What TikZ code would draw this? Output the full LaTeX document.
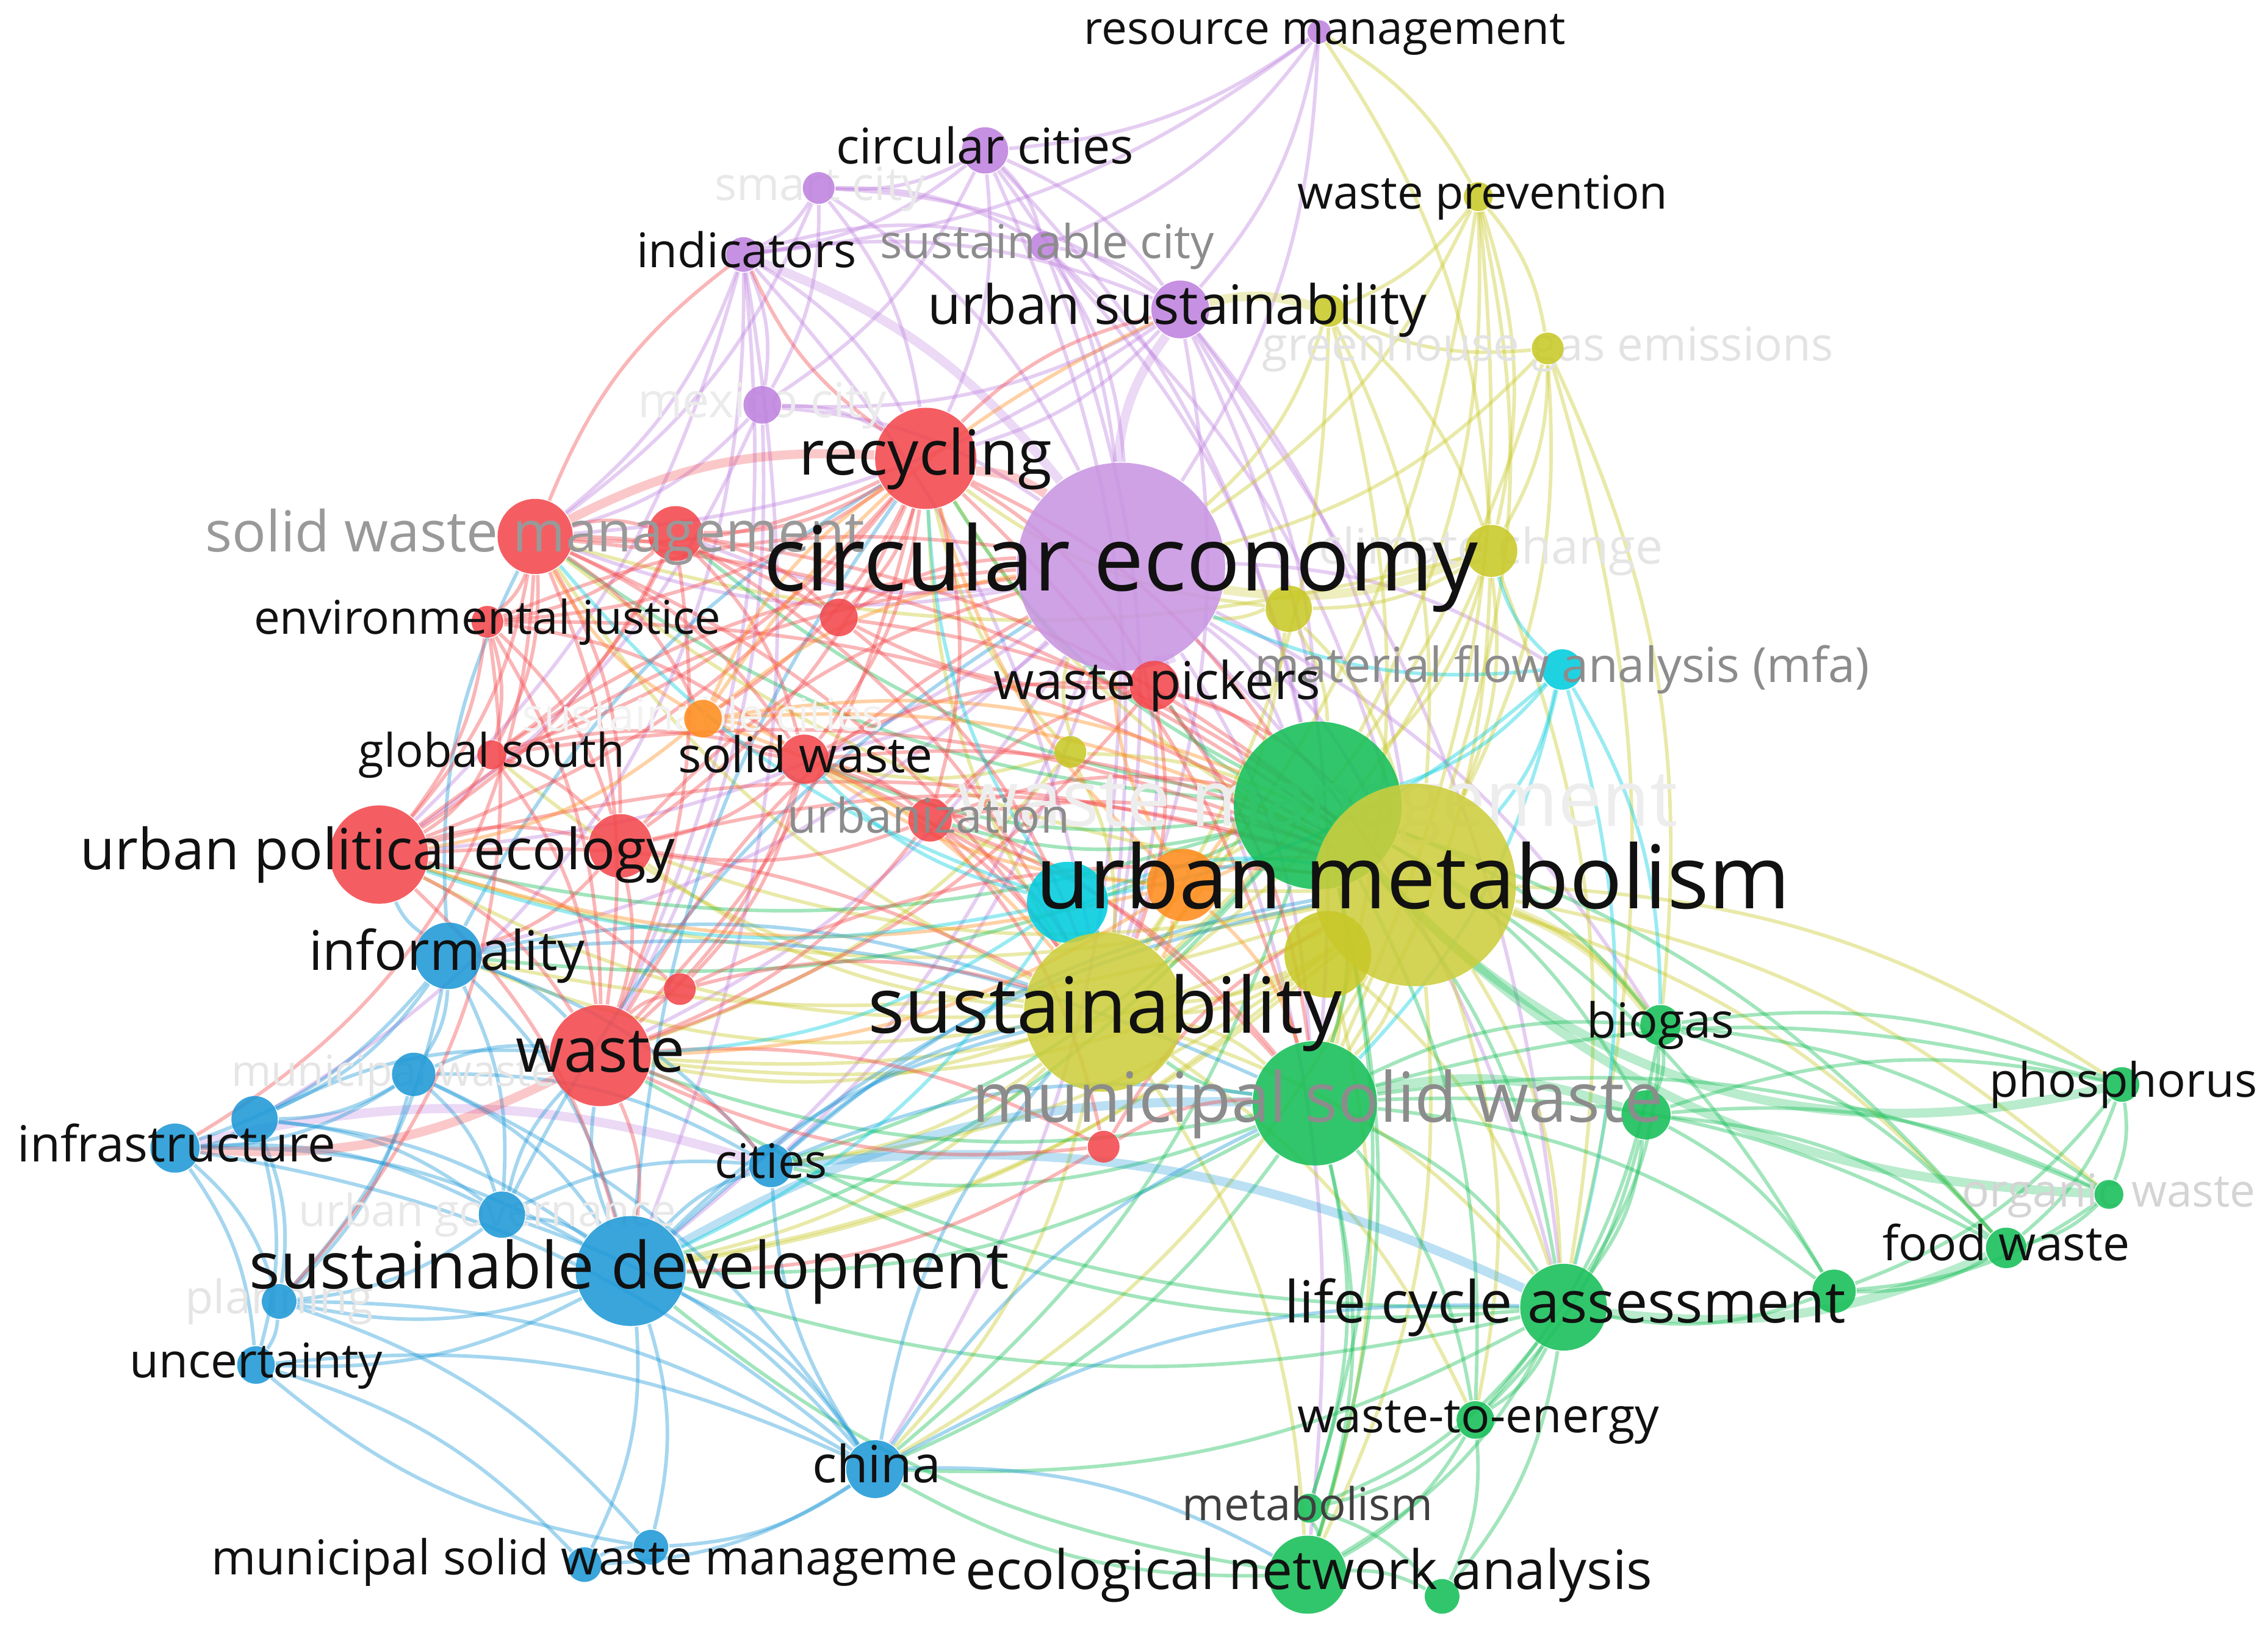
\documentclass[tikz,border=0pt]{standalone}
\usepackage{fontspec}
\setmainfont{Open Sans}
\pgfdeclarelayer{edges}\pgfdeclarelayer{flabels}\pgfdeclarelayer{labels}
\pgfsetlayers{edges,flabels,main,labels}
\definecolor{cred}{RGB}{242,72,76}
\definecolor{cgre}{RGB}{22,190,88}
\definecolor{cblu}{RGB}{30,152,214}
\definecolor{cyel}{RGB}{200,200,40}
\definecolor{cpur}{RGB}{190,130,222}
\definecolor{ccya}{RGB}{0,204,222}
\definecolor{cora}{RGB}{255,140,30}
\definecolor{tblack}{RGB}{17,17,17}
\tikzset{
  knode/.style={circle,inner sep=0pt,draw=none,fill opacity=0.88},
  lbl/.style={inner sep=0pt,anchor=base},
  edge/.style={line width=0.7pt,draw opacity=0.4},
  epu/.style={edge,draw=cpur},
  eye/.style={edge,draw=cyel},
  egr/.style={edge,draw=cgre},
  ebl/.style={edge,draw=cblu},
  ere/.style={edge,draw=cred},
  eor/.style={edge,draw=cora},
  ecy/.style={edge,draw=ccya},
  thk/.style={line width=1.8pt,draw opacity=0.3},
}
\newbox\mylbox
\newdimen\mylwd
\newcommand\labtext[2]{\setbox\mylbox\hbox{\fontsize{10pt}{12pt}\selectfont #2}%
  \mylwd=\wd\mylbox
  \pgfmathsetmacro\fsz{10*#1*0.284528/\the\mylwd}%
  \fontsize{\fsz pt}{\fsz pt}\selectfont\raisebox{-0.5ex}{#2}}
\newcommand\nd[5]{\node[knode,minimum size=#4*0.2mm,fill=#5] (#1) at (#2,#3) {};}
\newcommand\lab[5]{\node[lbl,text=#4] at (#1,#2) {\labtext{#3}{#5}};}
\begin{document}
\begin{tikzpicture}[x=0.1mm,y=-0.1mm]
\useasboundingbox (0,0) rectangle (1568,1131);
% ---------- nodes ----------
% purple
\nd{rm}{912}{22}{8}{cpur}
\nd{cc}{681}{104}{16}{cpur}
\nd{sm}{566}{130}{11}{cpur}
\nd{ind}{514}{176}{12}{cpur}
\nd{sc}{722}{170}{10}{cpur}
\nd{us}{816}{214}{20}{cpur}
\nd{mx}{527}{280}{13}{cpur}
\nd{ce}{775}{392}{72}{cpur!85}
% yellow
\nd{wp}{1022}{136}{10}{cyel}
\nd{y4}{919}{215}{11}{cyel}
\nd{ghg}{1070}{241}{11}{cyel}
\nd{cl}{1031}{381}{18}{cyel}
\nd{y1}{891}{421}{16}{cyel}
\nd{y2}{740}{520}{11}{cyel}
% red
\nd{rc}{640}{317}{35}{cred}
\nd{swm}{370}{371}{26}{cred}
\nd{r1}{467}{369}{19}{cred}
\nd{r2}{580}{427}{13}{cred}
\nd{ej}{337}{430}{11}{cred}
\nd{wpk}{798}{474}{17}{cred}
\nd{gs}{340}{522}{10}{cred}
\nd{sw}{556}{525}{17}{cred}
\nd{ub}{643}{567}{15}{cred}
\nd{upe}{262}{591}{34}{cred}
\nd{r3}{429}{585}{22}{cred}
\nd{wa}{415}{730}{35}{cred}
\nd{r4}{470}{684}{11}{cred}
\nd{r5}{763}{793}{11}{cred}
% orange / cyan
\nd{o1}{486}{497}{13}{cora}
\nd{mfa}{1080}{463}{14}{ccya}
% green big + yellow big
\nd{wm}{911}{557}{58}{cgre}
\nd{o2}{818}{612}{25}{cora}
\nd{c1}{738}{624}{28}{ccya}
\nd{um}{978}{612}{70}{cyel!90}
\nd{y3}{918}{660}{30}{cyel}
\nd{su}{763}{700}{55}{cyel!90}
% green
\nd{msw}{909}{763}{43}{cgre}
\nd{bg}{1148}{709}{14}{cgre}
\nd{g1}{1138}{771}{17}{cgre}
\nd{ph}{1467}{750}{12}{cgre}
\nd{ow}{1458}{826}{10}{cgre}
\nd{fw}{1387}{863}{14}{cgre}
\nd{g2}{1268}{893}{15}{cgre}
\nd{lca}{1081}{904}{30}{cgre}
\nd{wte}{1020}{982}{13}{cgre}
\nd{met}{905}{1043}{10}{cgre}
\nd{ena}{904}{1089}{27}{cgre}
\nd{g3}{997}{1104}{12}{cgre}
% blue
\nd{inf}{310}{661}{23}{cblu}
\nd{mw}{286}{743}{15}{cblu}
\nd{infr}{121}{794}{17}{cblu}
\nd{b1}{176}{774}{16}{cblu}
\nd{cit}{533}{806}{15}{cblu}
\nd{ug}{347}{840}{16}{cblu}
\nd{sd}{436}{879}{38}{cblu}
\nd{pl}{193}{900}{12}{cblu}
\nd{unc}{177}{944}{13}{cblu}
\nd{ch}{605}{1016}{20}{cblu}
\nd{mswm}{404}{1082}{12}{cblu}
\nd{b2}{450}{1070}{12}{cblu}
% ---------- edges ----------
\begin{pgfonlayer}{edges}
\foreach \a/\b in {rm/cc,rm/sc,rm/us,rm/ce,rm/ind,cc/sm,cc/ind,cc/sc,cc/us,cc/ce,cc/mx,sm/ind,sm/sc,sm/us,sm/ce,sm/mx,ind/sc,ind/us,ind/mx,sc/us,sc/ce,sc/um,sc/wm,us/su,us/um,us/wm,us/msw,us/mx,mx/ce,mx/rc,ce/um,ce/su,ce/wm,ce/msw,ce/lca,ce/sd,ce/inf,ce/ch,ce/cit,ce/wa,ce/upe,ce/bg,ce/ena,ind/sd,ind/su,cc/wm,sc/su,us/lca,ce/mfa,mx/swm,sm/rc,ce/swm,ce/sw,ce/r1,us/swm,cc/rc,cc/su,ind/swm,ind/rc,ind/upe,ind/wa,mx/wa,mx/upe,sm/swm,us/rc}
  \draw[epu] (\a) to[bend left=15] (\b);
\foreach \a/\b in {ce/us,ind/ce,ce/wpk,infr/cit}
  \draw[epu,thk] (\a) to[bend left=15] (\b);
\draw[epu] (ind) to[bend left=30] (b1);
\foreach \a/\b in {rm/wp,rm/cl,wp/ghg,wp/y4,wp/cl,wp/um,wp/su,wp/wm,wp/ce,wp/msw,ghg/cl,ghg/y4,ghg/um,ghg/su,ghg/lca,ghg/ce,ghg/bg,y4/um,y4/su,y4/ce,y4/cl,y4/msw,cl/um,cl/su,cl/wm,cl/msw,cl/y1,cl/swm,cl/lca,y1/um,y1/su,y1/ce,y2/um,y2/su,y2/ce,y2/sw,um/su,um/wm,um/msw,um/lca,um/bg,um/ph,um/fw,um/ena,um/ch,um/sd,um/wa,um/cit,um/inf,um/rc,um/upe,um/sw,um/wte,um/ow,su/wm,su/msw,su/lca,su/sd,su/ch,su/cit,su/wa,su/rc,su/ena,su/wte,su/upe,su/inf,y3/um,y3/lca,y3/msw,y3/ena,y3/su,y1/rc,y1/wm,y2/rc,y2/wa,y3/sd,y3/wa,um/swm,um/r3,su/swm,su/r3,su/gs}
  \draw[eye] (\a) to[bend left=15] (\b);
\foreach \a/\b in {cl/ce,us/y4,um/bg}
  \draw[eye,thk] (\a) to[bend left=15] (\b);
\foreach \a/\b in {wm/msw,wm/lca,wm/bg,wm/fw,wm/wte,wm/ena,wm/met,wm/g1,wm/g2,wm/sw,wm/rc,wm/wpk,wm/sd,wm/cit,wm/ch,wm/inf,wm/upe,msw/lca,msw/bg,msw/fw,msw/wte,msw/ena,msw/met,msw/g2,msw/ph,msw/ow,msw/ch,msw/sd,msw/cit,bg/g1,bg/lca,bg/fw,bg/ph,bg/ow,bg/wte,g1/lca,g1/fw,g1/ph,g1/ow,g1/g2,g1/wte,ph/ow,ph/fw,ph/g2,ow/fw,ow/g2,fw/g2,g2/lca,lca/wte,lca/ena,lca/met,lca/g3,lca/ch,wte/ena,wte/g3,wte/met,met/ena,met/g3,ena/g3,ena/ch,ena/sd,lca/sd,lca/cit,wm/swm,wm/r1,wm/ub,msw/wa,msw/su,lca/wa}
  \draw[egr] (\a) to[bend left=15] (\b);
\foreach \a/\b in {msw/g1,fw/lca}
  \draw[egr,thk] (\a) to[bend left=15] (\b);
\draw[egr,thk] (wm) to[bend right=30] (ph);
\draw[egr,thk] (wm) to[bend right=22] (ow);
\foreach \a/\b in {inf/mw,inf/b1,inf/infr,inf/ug,inf/sd,inf/upe,inf/wa,inf/cit,inf/pl,inf/swm,mw/b1,mw/infr,mw/ug,mw/sd,mw/wa,mw/pl,mw/cit,b1/infr,b1/ug,b1/sd,b1/pl,b1/unc,b1/wa,infr/ug,infr/sd,infr/unc,infr/pl,ug/sd,ug/pl,ug/cit,ug/ch,ug/wa,sd/pl,sd/unc,sd/ch,sd/mswm,sd/b2,sd/cit,sd/wa,pl/unc,pl/ch,unc/ch,unc/mswm,ch/mswm,ch/b2,ch/cit,ch/ena,ch/msw,ch/lca,mswm/b2,cit/msw,cit/um,sd/rc,inf/rc,ug/ce,b2/unc,infr/ch,pl/b2,mw/ch,inf/su,inf/msw,sd/su,sd/um,cit/su,ch/su}
  \draw[ebl] (\a) to[bend left=15] (\b);
\foreach \a/\b in {sd/msw,cit/lca}
  \draw[ebl,thk] (\a) to[bend left=15] (\b);
\foreach \a/\b in {rc/swm,rc/r1,rc/r2,rc/ej,rc/wpk,rc/sw,rc/ub,rc/gs,rc/upe,rc/wa,rc/ind,rc/o1,rc/r3,swm/r1,swm/ej,swm/gs,swm/upe,swm/r3,swm/wa,swm/sw,swm/r2,swm/o1,swm/ind,r1/r2,r1/ej,r1/sw,r1/gs,r1/upe,r1/wa,ej/gs,ej/upe,ej/r3,ej/wa,ej/sw,gs/upe,gs/r3,gs/sw,gs/wa,sw/ub,sw/r3,sw/wa,sw/wpk,sw/o1,sw/r4,ub/wpk,ub/wa,ub/r3,ub/r5,upe/r3,upe/wa,upe/r4,r3/wa,r3/inf,wa/r4,wa/r5,wpk/wa,wpk/r2,r5/msw,r5/wa,rc/us,wpk/um,wpk/su,ub/su,ub/um,sw/su,r2/ce,r3/ce,gs/ce,ej/ce,upe/ce,wa/ce,r4/su,upe/sd,wa/sd,wa/cit,r5/sd,rc/wm,rc/msw,sw/um,sw/msw,swm/um,swm/su,ej/um,upe/um,upe/su,gs/um,r1/um,r1/su,r3/um,r2/um,r2/su,wpk/wm,wpk/msw,ub/msw,ub/wm,r4/um,r5/um}
  \draw[ere] (\a) to[bend left=15] (\b);
\foreach \a/\b in {wa/infr,rc/ce,swm/rc}
  \draw[ere,thk] (\a) to[bend left=15] (\b);
\draw[ere] (swm) to[bend left=28] (infr);
\draw[ere] (ej) to[bend left=25] (pl);
\foreach \a/\b in {o1/rc,o1/ce,o1/sw,o1/um,o1/su,o1/wm,o2/um,o2/su,o2/ce,o2/rc,o2/wm,o2/sw,o2/wa,o1/us,o1/swm,o1/upe,o2/msw,o2/upe}
  \draw[eor] (\a) to[bend left=15] (\b);
\foreach \a/\b in {mfa/um,mfa/ce,mfa/wm,mfa/msw,mfa/c1,mfa/lca,mfa/cl,c1/um,c1/sw,c1/wa,c1/upe,c1/su,mfa/bg,c1/sd,c1/rc,c1/swm}
  \draw[ecy] (\a) to[bend left=15] (\b);
\end{pgfonlayer}
% ---------- faint labels (below nodes) ----------
\begin{pgfonlayer}{flabels}
\lab{567}{130}{146}{black!9}{smart city}
\lab{1070}{241}{395}{black!11}{greenhouse gas emissions}
\lab{527}{280}{172}{black!8}{mexico city}
\lab{1031}{381}{238}{black!10}{climate change}
\lab{486}{497}{250}{black!5}{sustainable cities}
\lab{911}{557}{498}{black!7}{waste management}
\lab{272}{743}{224}{black!10}{municipal waste}
\lab{1458}{826}{203}{black!17}{organic waste}
\lab{337}{840}{261}{black!9}{urban governance}
\lab{193}{900}{130}{black!10}{planning}
\end{pgfonlayer}
% ---------- labels ----------
\begin{pgfonlayer}{labels}
\lab{916}{22}{333}{tblack}{resource management}
\lab{681}{104}{206}{tblack}{circular cities}
\lab{516}{176}{152}{tblack}{indicators}
\lab{724}{170}{231}{black!45}{sustainable city}
\lab{1025}{136}{256}{tblack}{waste prevention}
\lab{814}{214}{345}{tblack}{urban sustainability}
\lab{640}{317}{175}{tblack}{recycling}
\lab{370}{371}{456}{black!40}{solid waste management}
\lab{775}{392}{494}{tblack}{circular economy}
\lab{337}{430}{323}{tblack}{environmental justice}
\lab{1080}{463}{425}{black!45}{material flow analysis (mfa)}
\lab{800}{474}{226}{tblack}{waste pickers}
\lab{340}{522}{184}{tblack}{global south}
\lab{557}{525}{176}{tblack}{solid waste}
\lab{642}{567}{195}{black!45}{urbanization}
\lab{261}{591}{411}{tblack}{urban political ecology}
\lab{977}{612}{522}{tblack}{urban metabolism}
\lab{309}{661}{191}{tblack}{informality}
\lab{764}{700}{328}{tblack}{sustainability}
\lab{1148}{709}{102}{tblack}{biogas}
\lab{415}{730}{117}{tblack}{waste}
\lab{1468}{750}{185}{tblack}{phosphorus}
\lab{911}{763}{478}{black!45}{municipal solid waste}
\lab{122}{794}{220}{tblack}{infrastructure}
\lab{533}{806}{78}{tblack}{cities}
\lab{1387}{863}{171}{tblack}{food waste}
\lab{435}{879}{525}{tblack}{sustainable development}
\lab{1082}{904}{388}{tblack}{life cycle assessment}
\lab{177}{944}{175}{tblack}{uncertainty}
\lab{1022}{982}{250}{tblack}{waste-to-energy}
\lab{606}{1016}{89}{tblack}{china}
\lab{904}{1043}{173}{black!75}{metabolism}
\lab{404}{1080}{516}{tblack}{municipal solid waste manageme}
\lab{905}{1089}{475}{tblack}{ecological network analysis}
\end{pgfonlayer}
\end{tikzpicture}
\end{document}
